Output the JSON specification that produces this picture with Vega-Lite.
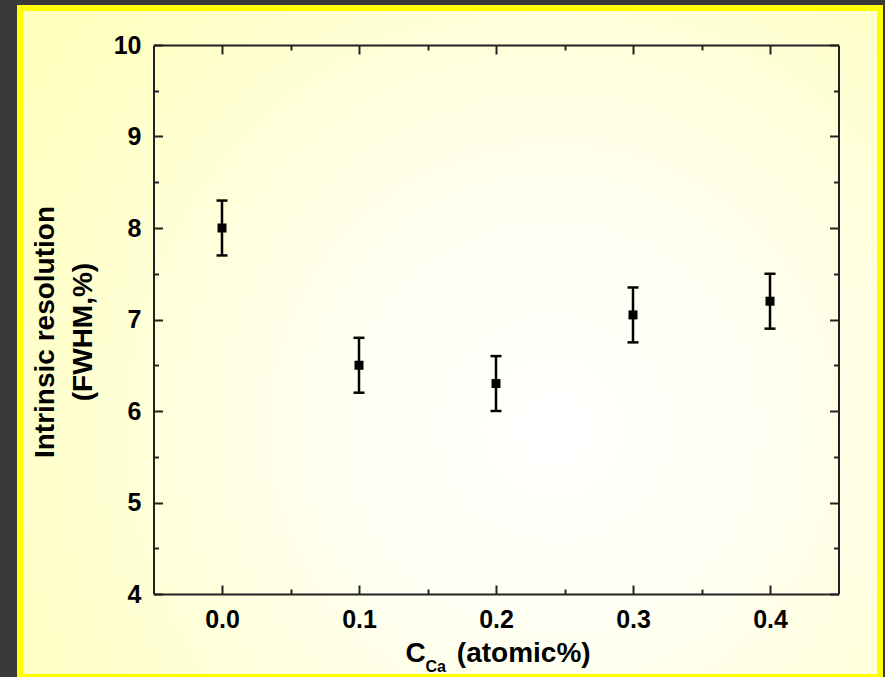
{
  "$schema": "https://vega.github.io/schema/vega-lite/v6.json",
  "width": 860,
  "height": 669,
  "autosize": {"type": "none"},
  "padding": {"left": 20, "top": 8, "right": 5, "bottom": 0},
  "background": "#3a3a3a",
  "view": {
    "fill": {"expr": "{gradient: 'radial', x1: 0.62, y1: 0.6, r1: 0, x2: 0.62, y2: 0.6, r2: 0.72, stops: [{offset: 0, color: '#ffffff'}, {offset: 0.35, color: '#fffff2'}, {offset: 1, color: '#ffffbe'}]}"},
    "stroke": "#ffff00",
    "strokeWidth": 6
  },
  "data": {
    "values": [
      {"c": 0.0, "res": 8.0, "lo": 7.7, "hi": 8.3},
      {"c": 0.1, "res": 6.5, "lo": 6.2, "hi": 6.8},
      {"c": 0.2, "res": 6.3, "lo": 6.0, "hi": 6.6},
      {"c": 0.3, "res": 7.05, "lo": 6.75, "hi": 7.35},
      {"c": 0.4, "res": 7.2, "lo": 6.9, "hi": 7.5}
    ]
  },
  "config": {
    "axis": {
      "labelFont": "Liberation Sans",
      "labelFontWeight": "bold",
      "labelFontSize": 25,
      "labelColor": "#000000",
      "titleFont": "Liberation Sans",
      "titleFontWeight": "bold",
      "titleFontSize": 28,
      "titleColor": "#000000",
      "domainColor": "#222222",
      "domainWidth": 2,
      "tickColor": "#222222",
      "tickWidth": 2,
      "grid": false,
      "labelFlush": false,
      "labelOverlap": false
    }
  },
  "resolve": {"axis": {"x": "independent", "y": "independent"}},
  "layer": [
    {
      "mark": {"type": "rule", "color": "#000000", "strokeWidth": 2.5},
      "encoding": {
        "x": {
          "field": "c",
          "type": "quantitative",
          "scale": {"domain": [-0.05, 0.45], "range": [133.5, 818.5], "nice": false, "zero": false},
          "axis": {
            "orient": "bottom",
            "offset": -83,
            "values": [0, 0.05, 0.1, 0.15, 0.2, 0.25, 0.3, 0.35, 0.4],
            "tickSize": {"expr": "abs(datum.value * 10 - round(datum.value * 10)) < 0.000001 ? -9 : -5"},
            "labelExpr": "abs(datum.value * 10 - round(datum.value * 10)) < 0.000001 ? format(datum.value, '.1f') : ''",
            "labelPadding": 22,
            "title": "C\u00a0\u00a0\u00a0\u00a0(atomic%)",
            "titleX": 385,
            "titleY": 67,
            "titleAlign": "left",
            "titleBaseline": "alphabetic"
          }
        },
        "y": {
          "field": "lo",
          "type": "quantitative",
          "scale": {"domain": [4, 10], "range": [586, 37], "nice": false, "zero": false},
          "axis": {
            "orient": "left",
            "offset": -133.5,
            "values": [4, 4.5, 5, 5.5, 6, 6.5, 7, 7.5, 8, 8.5, 9, 9.5, 10],
            "tickSize": {"expr": "abs(datum.value - round(datum.value)) < 0.000001 ? -9 : -5"},
            "labelExpr": "abs(datum.value - round(datum.value)) < 0.000001 ? format(datum.value, 'd') : ''",
            "labelPadding": 21.5,
            "title": ["Intrinsic resolution", "(FWHM,%)"],
            "titleAngle": 270,
            "titleX": -122.5,
            "titleY": 323.5,
            "titleAlign": "center",
            "titleBaseline": "top",
            "titleLineHeight": 38
          }
        },
        "y2": {"field": "hi"}
      }
    },
    {
      "mark": {"type": "tick", "orient": "horizontal", "size": 11, "thickness": 2.5, "color": "#000000", "opacity": 1},
      "encoding": {
        "x": {
          "field": "c",
          "type": "quantitative",
          "scale": {"domain": [-0.05, 0.45], "range": [133.5, 818.5], "nice": false, "zero": false},
          "axis": {
            "orient": "bottom",
            "offset": -83,
            "domain": false,
            "ticks": false,
            "labels": false,
            "title": "Ca",
            "titleFontSize": 16,
            "titleX": 405,
            "titleY": 77,
            "titleAlign": "left",
            "titleBaseline": "alphabetic"
          }
        },
        "y": {
          "field": "lo",
          "type": "quantitative",
          "scale": {"domain": [4, 10], "range": [586, 37], "nice": false, "zero": false},
          "axis": null
        }
      }
    },
    {
      "mark": {"type": "tick", "orient": "horizontal", "size": 11, "thickness": 2.5, "color": "#000000", "opacity": 1},
      "encoding": {
        "x": {
          "field": "c",
          "type": "quantitative",
          "scale": {"domain": [-0.05, 0.45], "range": [133.5, 818.5], "nice": false, "zero": false},
          "axis": null
        },
        "y": {
          "field": "hi",
          "type": "quantitative",
          "scale": {"domain": [4, 10], "range": [586, 37], "nice": false, "zero": false},
          "axis": null
        }
      }
    },
    {
      "mark": {"type": "point", "shape": "square", "filled": true, "size": 81, "color": "#000000", "opacity": 1},
      "encoding": {
        "x": {
          "field": "c",
          "type": "quantitative",
          "scale": {"domain": [-0.05, 0.45], "range": [133.5, 818.5], "nice": false, "zero": false},
          "axis": {
            "orient": "top",
            "offset": -37,
            "values": [0, 0.05, 0.1, 0.15, 0.2, 0.25, 0.3, 0.35, 0.4],
            "tickSize": {"expr": "abs(datum.value * 10 - round(datum.value * 10)) < 0.000001 ? -9 : -5"},
            "labels": false,
            "title": null
          }
        },
        "y": {
          "field": "res",
          "type": "quantitative",
          "scale": {"domain": [4, 10], "range": [586, 37], "nice": false, "zero": false},
          "axis": {
            "orient": "right",
            "offset": -41.5,
            "values": [4, 4.5, 5, 5.5, 6, 6.5, 7, 7.5, 8, 8.5, 9, 9.5, 10],
            "tickSize": {"expr": "abs(datum.value - round(datum.value)) < 0.000001 ? -9 : -5"},
            "labels": false,
            "title": null
          }
        }
      }
    }
  ]
}
